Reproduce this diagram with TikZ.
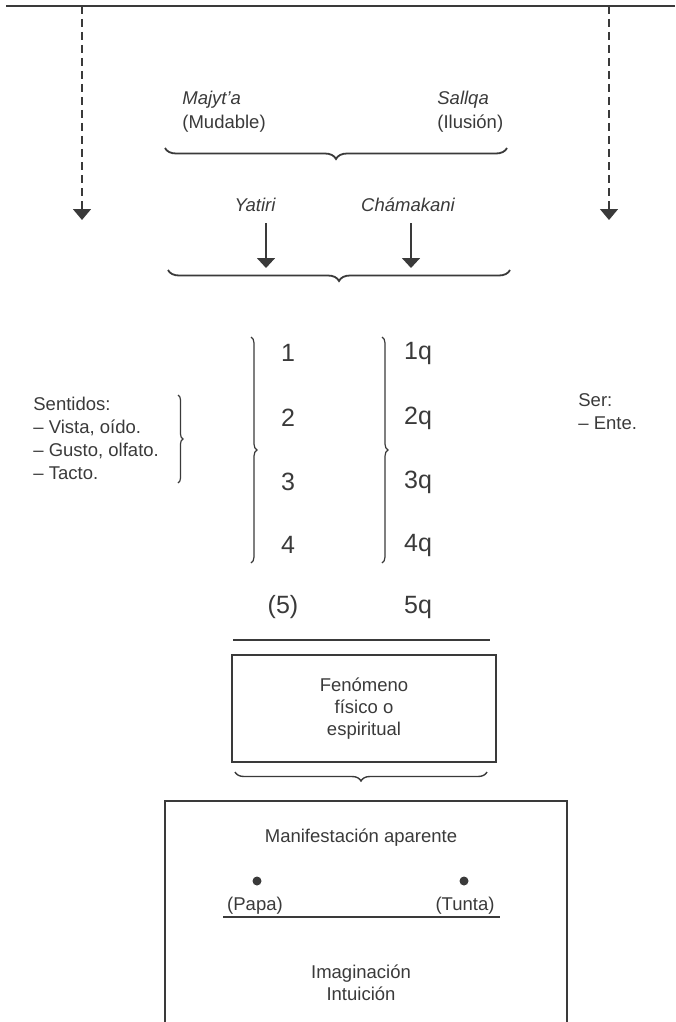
\documentclass[tikz,border=0pt]{standalone}
\usepackage{fontspec}
\setmainfont{Liberation Sans}
\usetikzlibrary{arrows.meta, decorations.pathreplacing}
\definecolor{ink}{HTML}{3A3A3A}

\begin{document}
\begin{tikzpicture}[x=0.5pt, y=-0.5pt, ink, text=ink,
  lbl/.style={font=\fontsize{9.25}{11.5}\selectfont, inner sep=0pt},
  ital/.style={font=\fontsize{9.25}{11.5}\selectfont\itshape, inner sep=0pt},
  num/.style={font=\fontsize{12.5}{14}\selectfont, inner sep=0pt},
  hbrc/.style={decorate, decoration={brace, amplitude=5.5pt, mirror}, line width=0.9pt},
  vbrc/.style={decorate, decoration={brace, amplitude=3pt}, line width=0.6pt},
  darr/.style={dash pattern=on 4pt off 2.5pt, line width=0.75pt, -{Triangle[width=9pt,length=5.5pt]}},
  sarr/.style={line width=0.9pt, -{Triangle[width=9pt,length=5pt]}},
  txtbox/.style={draw, line width=0.6pt, align=center, font=\fontsize{9.25}{11}\selectfont},
  dot/.style={circle, fill=ink, inner sep=0pt, minimum size=4.5pt}]
\useasboundingbox (0,0) rectangle (675,1022);
% top rule and dashed arrows
\coordinate (topL) at (6,6);
\coordinate (topR) at (675,6);
\draw[line width=1pt] (topL) -- (topR);
\coordinate (dashL) at (82,6);
\coordinate (dashLend) at (82,220);
\coordinate (dashR) at (609,6);
\coordinate (dashRend) at (609,220);
\draw[darr] (dashL) -- (dashLend);
\draw[darr] (dashR) -- (dashRend);
% upper labels
\node[ital, anchor=west] (majyta) at (182,100) {Majyt'a};
\node[lbl, anchor=west] (mudable) at (182,124) {(Mudable)};
\node[ital, anchor=west] (sallqa) at (437,100) {Sallqa};
\node[lbl, anchor=west] (ilusion) at (437,124) {(Ilusión)};
\draw[hbrc] (165,148) -- (507,148);
\node[ital] (yatiri) at (255,205) {Yatiri};
\node[ital] (chamakani) at (408,205) {Chámakani};
\coordinate (yatA) at (266,223);
\coordinate (yatB) at (266,268);
\coordinate (chaA) at (411,223);
\coordinate (chaB) at (411,268);
\draw[sarr] (yatA) -- (yatB);
\draw[sarr] (chaA) -- (chaB);
\draw[hbrc] (168,270) -- (510,270);
% columns
\node[num] (n1) at (288,353) {1};
\node[num] (n2) at (288,418) {2};
\node[num] (n3) at (288,482) {3};
\node[num] (n4) at (288,545) {4};
\node[num] (n5) at (283,607) {(5)};
\node[num] (q1) at (418,353) {1q};
\node[num] (q2) at (418,418) {2q};
\node[num] (q3) at (418,482) {3q};
\node[num] (q4) at (418,545) {4q};
\node[num] (q5) at (418,607) {5q};
\draw[vbrc] (251,337) -- (251,563);
\draw[vbrc] (382,337) -- (382,563);
\node[lbl, anchor=west, align=left] (sentidos) at (33,438) {Sentidos:\\– Vista, oído.\\– Gusto, olfato.\\– Tacto.};
\draw[vbrc, decoration={amplitude=2.5pt}] (178,395) -- (178,483);
\node[lbl, anchor=west, align=left] (ser) at (578,412) {Ser:\\– Ente.};
\draw[line width=0.6pt] (233,640) -- (490,640);
% phenomenon box
\node[txtbox, minimum width=132pt, minimum height=53.5pt] (fenomeno) at (364,708.5) {Fenómeno\\físico o\\espiritual};
\draw[hbrc, decoration={amplitude=4.5pt}, line width=0.7pt] (235,772) -- (487,772);
% lower frame
\draw[line width=0.6pt] (165,1030) |- (567,801) -- (567,1030);
\node[lbl] (manif) at (361,838) {Manifestación aparente};
\node[dot] (papadot) at (257,881) {};
\node[dot] (tuntadot) at (464,881) {};
\node[lbl] (papa) at (255,906) {(Papa)};
\node[lbl] (tunta) at (465,906) {(Tunta)};
\draw[line width=0.6pt] (223,917) -- (500,917);
\node[lbl, align=center, font=\fontsize{9.25}{11}\selectfont] (imag) at (361,983) {Imaginación\\Intuición};
\end{tikzpicture}
\end{document}
